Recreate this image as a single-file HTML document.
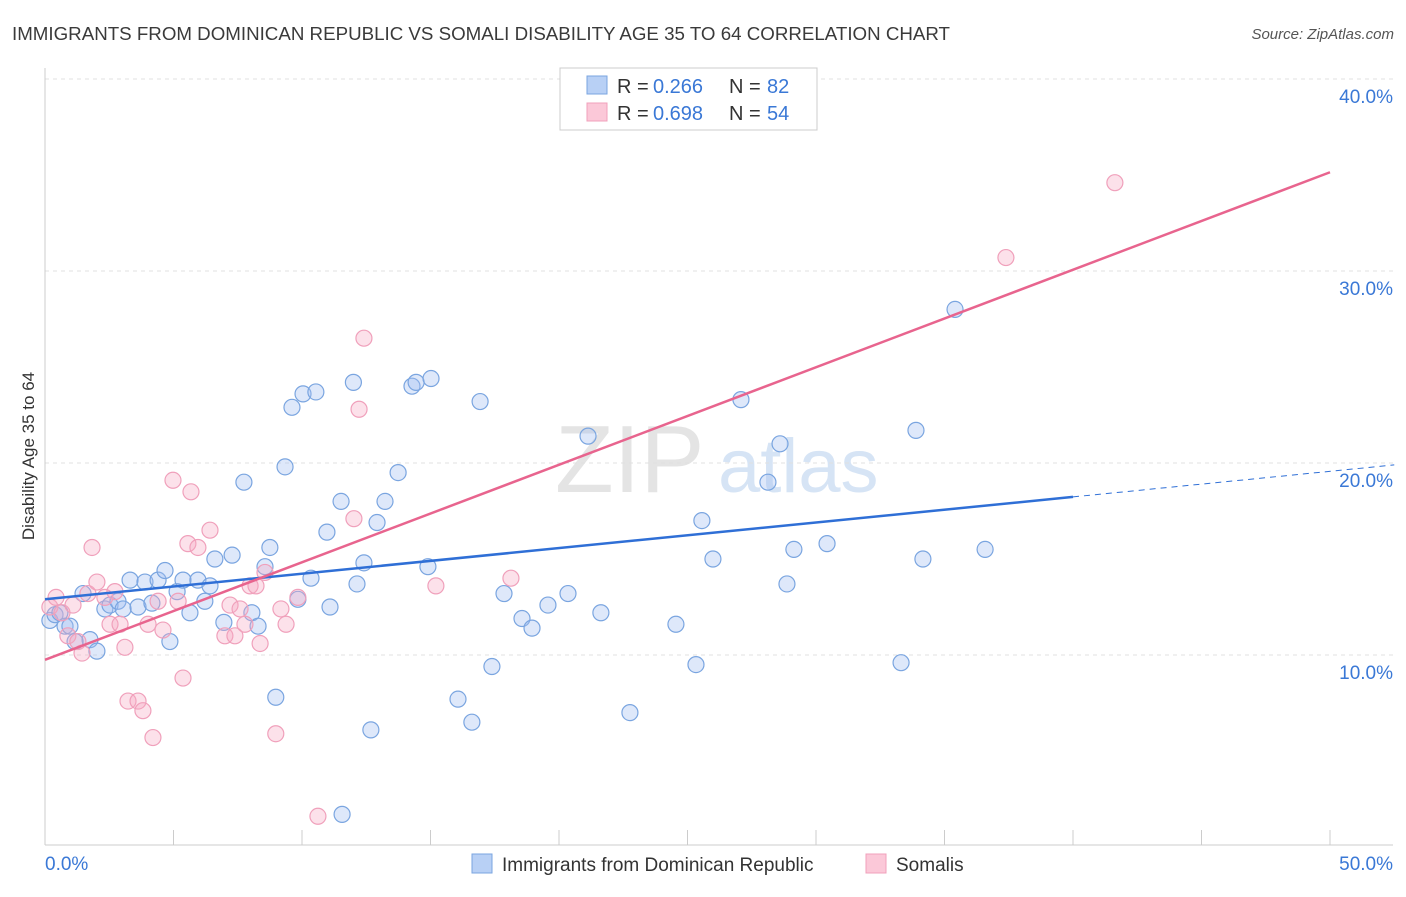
<!DOCTYPE html>
<html><head><meta charset="utf-8"><style>
body{margin:0;background:#fff;font-family:"Liberation Sans",sans-serif;}
svg text{font-family:"Liberation Sans",sans-serif;}
</style></head><body>
<svg id="chart" width="1406" height="892" xmlns="http://www.w3.org/2000/svg">
<text x="12" y="40" font-size="18" fill="#3a3a3a" textLength="938" lengthAdjust="spacingAndGlyphs">IMMIGRANTS FROM DOMINICAN REPUBLIC VS SOMALI DISABILITY AGE 35 TO 64 CORRELATION CHART</text>
<text x="1394" y="39" font-size="15" fill="#555" text-anchor="end" font-style="italic">Source: ZipAtlas.com</text>
<text x="555" y="492" font-size="96" fill="#e4e4e4" font-family="Liberation Serif">ZIP</text>
<text x="718" y="492" font-size="76" fill="#d6e4f5">atlas</text>
<g id="grid"></g>
<g id="axes"></g>
<text transform="translate(34,456) rotate(-90)" font-size="17" fill="#333" text-anchor="middle">Disability Age 35 to 64</text>
<g id="marks"></g>
<g>
<rect x="560" y="68" width="257" height="62" fill="#fff" stroke="#ccc"/>
<rect x="587" y="76" width="20" height="18" fill="#b8d0f5" stroke="#7aa5e0"/>
<rect x="587" y="103" width="20" height="18" fill="#fbc8d8" stroke="#f0a0bb"/>
<text x="617" y="93" font-size="20" fill="#333">R =</text>
<text x="653" y="93" font-size="20" fill="#3a78d6">0.266</text>
<text x="729" y="93" font-size="20" fill="#333">N =</text>
<text x="767" y="93" font-size="20" fill="#3a78d6">82</text>
<text x="617" y="120" font-size="20" fill="#333">R =</text>
<text x="653" y="120" font-size="20" fill="#3a78d6">0.698</text>
<text x="729" y="120" font-size="20" fill="#333">N =</text>
<text x="767" y="120" font-size="20" fill="#3a78d6">54</text>
</g>
<g>
<rect x="472" y="854" width="20" height="19" fill="#b8d0f5" stroke="#7aa5e0"/>
<text x="502" y="871" font-size="19" fill="#333">Immigrants from Dominican Republic</text>
<rect x="866" y="854" width="20" height="19" fill="#fbc8d8" stroke="#f0a0bb"/>
<text x="896" y="871" font-size="19" fill="#333">Somalis</text>
</g>
</svg>
<script>
const xTicks=[0,5,10,15,20,25,30,35,40,45,50];
const yTicks=[10,20,30,40];
const blueX=[0.19,0.39,0.58,0.78,0.97,1.48,1.75,1.17,2.02,2.33,2.53,2.84,3.04,3.31,3.62,3.89,4.16,4.40,4.67,4.86,5.14,5.37,5.64,5.95,6.22,6.42,6.61,6.96,7.28,7.74,8.05,8.29,8.56,8.75,8.98,9.34,9.61,9.84,10.04,10.35,10.54,10.97,11.09,11.52,11.56,12.0,12.14,12.41,12.68,12.92,13.23,13.74,14.28,14.44,14.90,15.02,16.07,16.61,16.93,17.39,17.86,18.56,18.95,19.57,20.35,21.13,21.63,22.76,24.55,25.33,25.56,25.99,27.08,28.13,28.6,28.87,29.14,30.43,33.31,33.89,34.16,35.41,36.58];
const blueY=[11.8,12.1,12.2,11.5,11.5,13.2,10.8,10.7,10.2,12.4,12.6,12.8,12.4,13.9,12.5,13.8,12.7,13.9,14.4,10.7,13.3,13.9,12.2,13.9,12.8,13.6,15.0,11.7,15.2,19.0,12.2,11.5,14.6,15.6,7.8,19.8,22.9,12.9,23.6,14.0,23.7,16.4,12.5,18.0,1.7,24.2,13.7,14.8,6.1,16.9,18.0,19.5,24.0,24.2,14.6,24.4,7.7,6.5,23.2,9.4,13.2,11.9,11.4,12.6,13.2,21.4,12.2,7.0,11.6,9.5,17.0,15.0,23.3,19.0,21.0,13.7,15.5,15.8,9.6,21.7,15.0,28.0,15.5];
const pinkX=[0.19,0.43,0.66,0.89,1.09,1.28,1.44,1.67,1.83,2.02,2.33,2.53,2.72,2.92,3.11,3.23,3.62,3.81,4.01,4.20,4.40,4.59,4.98,5.18,5.37,5.56,5.68,5.95,6.42,7.0,7.2,7.39,7.59,7.78,7.98,8.21,8.37,8.56,8.98,9.18,9.38,9.84,10.62,12.02,12.22,12.41,15.21,18.13,37.39,41.63];
const pinkY=[12.5,13.0,12.2,11.0,12.6,10.7,10.1,13.2,15.6,13.8,13.0,11.6,13.3,11.6,10.4,7.6,7.6,7.1,11.6,5.7,12.8,11.3,19.1,12.8,8.8,15.8,18.5,15.6,16.5,11.0,12.6,11.0,12.4,11.6,13.6,13.6,10.6,14.3,5.9,12.4,11.6,13.0,1.6,17.1,22.8,26.5,13.6,14.0,30.7,34.6];
const x0=45,x1=1330,yBase=847,yPer=19.2;
const sx=v=>x0+(v/50)*(x1-x0);
const sy=v=>yBase-v*yPer;
const NS="http://www.w3.org/2000/svg";
function mk(tag,attrs,parent){const e=document.createElementNS(NS,tag);for(const k in attrs)e.setAttribute(k,attrs[k]);parent.appendChild(e);return e;}
const grid=document.getElementById('grid'),axes=document.getElementById('axes'),marks=document.getElementById('marks');
mk('line',{x1:45,y1:79,x2:1393,y2:79,stroke:'#e0e0e0','stroke-dasharray':'4,4'},grid);
yTicks.forEach(t=>{
 const l=mk('line',{x1:45,y1:sy(t),x2:1393,y2:sy(t),stroke:'#e0e0e0','stroke-dasharray':'4,4'},grid);
 
 
 const tx=mk('text',{x:1393,y:sy(t)+24,'font-size':19,fill:'#3a78d6','text-anchor':'end'},axes);
 tx.textContent=t.toFixed(1)+'%';
 
 
});
mk('line',{x1:45,y1:68,x2:45,y2:845,stroke:'#ccc'},axes);
mk('line',{x1:45,y1:845,x2:1393,y2:845,stroke:'#ccc'},axes);
xTicks.forEach(t=>{
 if(t===0)return;
 const l=mk('line',{x1:sx(t),y1:830,x2:sx(t),y2:845,stroke:'#ccc'},axes);
 
 
});
[[0,'0.0%','start',45],[50,'50.0%','end',1393]].forEach(a=>{
 const tx=mk('text',{x:a[3],y:870,'font-size':19,fill:'#3a78d6','text-anchor':a[2]},axes);
 tx.textContent=a[1];
 
 
});
function reg(X,Y){const n=X.length;let mx=0,my=0;for(let i=0;i<n;i++){mx+=X[i];my+=Y[i];}mx/=n;my/=n;let sxy=0,sxx=0;for(let i=0;i<n;i++){sxy+=(X[i]-mx)*(Y[i]-my);sxx+=(X[i]-mx)**2;}const b=sxy/sxx;return [my-b*mx,b];}
blueX.forEach((v,i)=>{
 const c=mk('circle',{cx:sx(v),cy:sy(blueY[i]),r:8,fill:'rgba(160,190,240,0.35)',stroke:'#7aa5e0','stroke-width':1.2},marks);
 
 
});
pinkX.forEach((v,i)=>{
 const c=mk('circle',{cx:sx(v),cy:sy(pinkY[i]),r:8,fill:'rgba(245,170,195,0.35)',stroke:'#f0a0bb','stroke-width':1.2},marks);
 
 
});
const [ba,bb]=reg(blueX,blueY),[pa,pb]=reg(pinkX,pinkY);
const bl=mk('line',{x1:sx(0),y1:sy(ba),x2:sx(40),y2:sy(ba+bb*40),stroke:'#2f6fd6','stroke-width':2.5},marks);


const bd=mk('line',{x1:sx(40),y1:sy(ba+bb*40),x2:sx(52.5),y2:sy(ba+bb*52.5),stroke:'#2f6fd6','stroke-width':1,'stroke-dasharray':'6,5'},marks);


const pl=mk('line',{x1:sx(0),y1:sy(pa),x2:sx(50),y2:sy(pa+pb*50),stroke:'#e8648e','stroke-width':2.5},marks);


</script>
</body></html>
